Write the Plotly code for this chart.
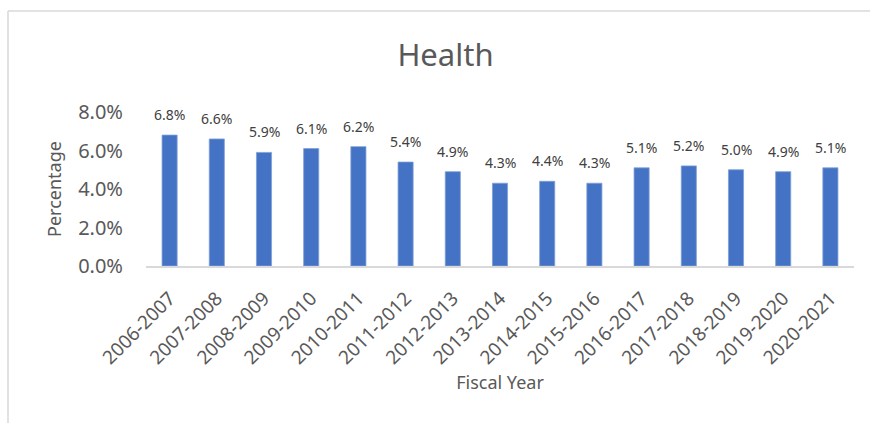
import plotly.graph_objects as go

# Health spending share by fiscal year
fiscal_years = [
    "2006-2007", "2007-2008", "2008-2009", "2009-2010", "2010-2011",
    "2011-2012", "2012-2013", "2013-2014", "2014-2015", "2015-2016",
    "2016-2017", "2017-2018", "2018-2019", "2019-2020", "2020-2021",
]
health_pct = [6.8, 6.6, 5.9, 6.1, 6.2, 5.4, 4.9, 4.3, 4.4, 4.3, 5.1, 5.2, 5.0, 4.9, 5.1]
y_ticks = [0, 2, 4, 6, 8]

shares = [v / 100 for v in health_pct]
labels = [f"{v:.1f}%" for v in health_pct]

FONT = "Noto Sans"
TEXT = "#595959"
GRID = "#D9D9D9"

W, H = 870, 423
L, R, T, B = 146, 16, 112, 157
pw, ph = W - L - R, H - T - B

fig = go.Figure(
    go.Bar(
        x=fiscal_years,
        y=shares,
        marker=dict(color="#4472C4", line=dict(color="#7F9FD8", width=0.8)),
        hoverinfo="skip",
    )
)

# value labels above each bar
for cat, val, lab in zip(fiscal_years, shares, labels):
    fig.add_annotation(
        x=cat, y=val, text=lab, showarrow=False,
        xanchor="center", yanchor="bottom", yshift=9,
        font=dict(family=FONT, size=14, color="#404040"),
    )

# light chart-area frame (top and left edges)
fx0 = (8 - L) / pw
fy1 = (H - B - 11) / ph
fig.add_shape(type="line", xref="paper", yref="paper",
              x0=fx0, x1=(W + 10 - L) / pw, y0=fy1, y1=fy1,
              line=dict(color=GRID, width=1.5))
fig.add_shape(type="line", xref="paper", yref="paper",
              x0=fx0, x1=fx0, y0=fy1, y1=(H - B - H - 10) / ph,
              line=dict(color=GRID, width=1.5))

fig.update_layout(
    width=W,
    height=H,
    margin=dict(l=L, r=R, t=T, b=B, autoexpand=False),
    paper_bgcolor="white",
    plot_bgcolor="white",
    showlegend=False,
    bargap=0.68,
    font=dict(family=FONT, color=TEXT),
    title=dict(
        text="Health",
        x=445.5 / W, xref="container", xanchor="center",
        y=1 - 55 / H, yref="container", yanchor="middle",
        font=dict(family=FONT, size=31, color=TEXT),
    ),
    xaxis=dict(
        type="category",
        showline=True, linecolor=GRID, linewidth=1.5,
        showgrid=False, zeroline=False,
        tickangle=-45,
        tickfont=dict(family=FONT, size=19, color=TEXT),
        ticks="", ticklabelstandoff=12,
        title=dict(text="Fiscal Year", font=dict(family=FONT, size=18, color=TEXT), standoff=5),
        automargin=False,
    ),
    yaxis=dict(
        range=[0, 0.08],
        tickvals=[t / 100 for t in y_ticks],
        tickformat=".1%",
        showgrid=False, zeroline=False, showline=False,
        tickfont=dict(family=FONT, size=20, color=TEXT),
        ticks="", ticklabelstandoff=22,
        title=dict(text="Percentage", font=dict(family=FONT, size=18, color=TEXT), standoff=11),
        automargin=False,
    ),
)

fig.write_html("out.html")
